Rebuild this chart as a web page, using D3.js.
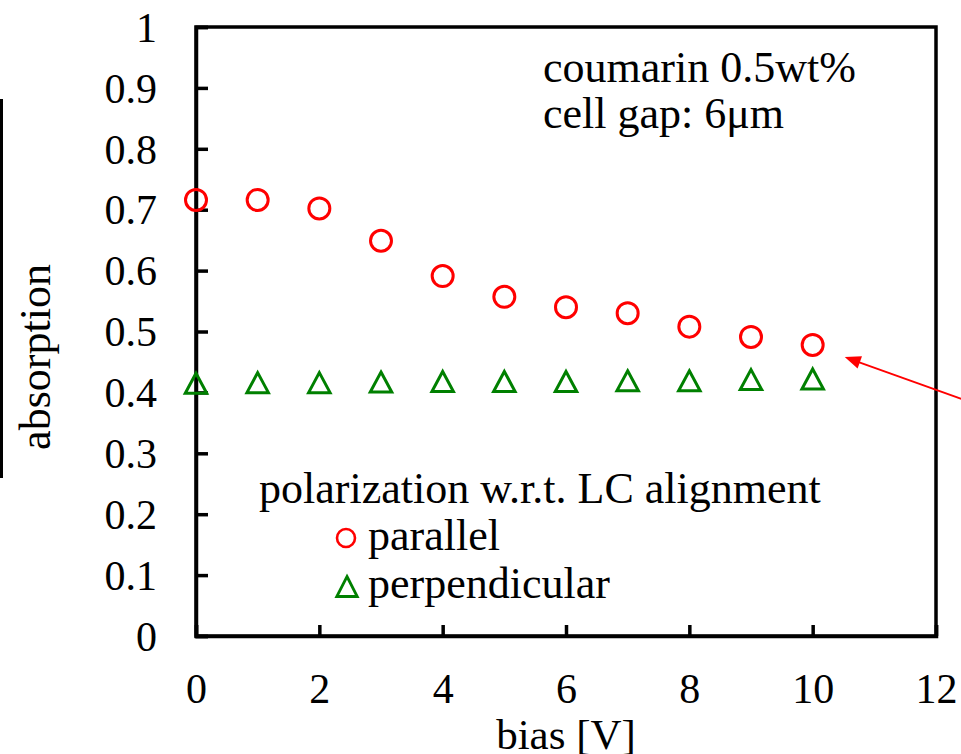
<!DOCTYPE html>
<html>
<head>
<meta charset="utf-8">
<script src="https://cdn.jsdelivr.net/npm/d3@7"></script>
<style>
  html, body { margin: 0; padding: 0; background: #fff; }
  svg { display: block; }
  text { font-family: "Liberation Serif", "Times New Roman", serif; fill: #000; }
</style>
</head>
<body>
<svg id="chart" width="961" height="754"></svg>
<script>
// ---- data ----
const biasV = [0, 1, 2, 3, 4, 5, 6, 7, 8, 9, 10];
const parallel = [0.716, 0.716, 0.702, 0.649, 0.591, 0.557, 0.540, 0.530, 0.508, 0.491, 0.478];
const perpendicular = [0.415, 0.416, 0.416, 0.417, 0.418, 0.418, 0.418, 0.419, 0.419, 0.421, 0.422];
const xTicks = [0, 2, 4, 6, 8, 10, 12];
const yTicks = [0, 0.1, 0.2, 0.3, 0.4, 0.5, 0.6, 0.7, 0.8, 0.9, 1];
const yTickLabels = ["0", "0.1", "0.2", "0.3", "0.4", "0.5", "0.6", "0.7", "0.8", "0.9", "1"];
const xTitle = "bias [V]";
const yTitle = "absorption";
const noteLines = ["coumarin 0.5wt%", "cell gap: 6\u03bcm"];
const legendTitle = "polarization w.r.t. LC alignment";
const seriesNames = ["parallel", "perpendicular"];
const arrowFrom = [12.45, 0.388];
const arrowTo = [10.52, 0.458];

(function () {
// ---- layout ----
const pLeft = 196, pRight = 936, pTop = 27, pBottom = 636;
const fs = 42;
const red = "#ff0000", green = "#008000";

const svg = d3.select("#chart");
const x = d3.scaleLinear().domain([0, 12]).range([pLeft, pRight]);
const y = d3.scaleLinear().domain([0, 1]).range([pBottom, pTop]);

// frame
svg.append("rect")
  .attr("x", pLeft).attr("y", pTop)
  .attr("width", pRight - pLeft).attr("height", pBottom - pTop)
  .attr("fill", "none").attr("stroke", "#000").attr("stroke-width", 3.5);

// y axis
const yAxis = svg.append("g")
  .attr("transform", `translate(${pLeft},0)`)
  .call(d3.axisLeft(y).tickValues(yTicks)
    .tickFormat((d, i) => yTickLabels[i])
    .tickSize(-12).tickPadding(39));
yAxis.select(".domain").attr("stroke", "#000").attr("stroke-width", 3.5);
yAxis.selectAll(".tick line").attr("stroke", "#000").attr("stroke-width", 3.5);
yAxis.selectAll(".tick text")
  .style("font-family", '"Liberation Serif", "Times New Roman", serif')
  .style("font-size", fs + "px").attr("fill", "#000")
  .attr("dy", "0.34em");

// x axis
const xAxis = svg.append("g")
  .attr("transform", `translate(0,${pBottom})`)
  .call(d3.axisBottom(x).tickValues(xTicks).tickSize(-11).tickPadding(0));
xAxis.select(".domain").attr("stroke", "#000").attr("stroke-width", 3.5);
xAxis.selectAll(".tick line").attr("stroke", "#000").attr("stroke-width", 3.5);
xAxis.selectAll(".tick text")
  .style("font-family", '"Liberation Serif", "Times New Roman", serif')
  .style("font-size", fs + "px").attr("fill", "#000")
  .attr("y", 67).attr("dy", "0");

// axis titles
svg.append("text")
  .attr("x", (pLeft + pRight) / 2).attr("y", 749)
  .attr("text-anchor", "middle")
  .style("font-size", "43px")
  .text(xTitle);

svg.append("text")
  .attr("transform", "translate(50,357) rotate(-90)")
  .attr("text-anchor", "middle")
  .style("font-size", "44px")
  .text(yTitle);

// stray bar at left edge
svg.append("line")
  .attr("x1", 1.5).attr("x2", 1.5).attr("y1", 99).attr("y2", 478)
  .attr("stroke", "#000").attr("stroke-width", 3);

// triangle path helper (bounding-box centred)
function triPath(w, h) {
  return `M0,${-h / 2}L${w / 2},${h / 2}L${-w / 2},${h / 2}Z`;
}

// series: parallel (circles)
svg.append("g").selectAll("circle")
  .data(biasV.map((b, i) => [b, parallel[i]]))
  .join("circle")
  .attr("cx", d => x(d[0])).attr("cy", d => y(d[1]))
  .attr("r", 10.5)
  .attr("fill", "none").attr("stroke", red).attr("stroke-width", 3);

// series: perpendicular (triangles)
svg.append("g").selectAll("path")
  .data(biasV.map((b, i) => [b, perpendicular[i]]))
  .join("path")
  .attr("transform", d => `translate(${x(d[0])},${y(d[1])})`)
  .attr("d", triPath(21.5, 20))
  .attr("fill", "none").attr("stroke", green).attr("stroke-width", 3)
  .attr("stroke-linejoin", "miter");

// annotation text
svg.append("g").selectAll("text")
  .data(noteLines)
  .join("text")
  .attr("x", 543).attr("y", (d, i) => 82 + i * 46)
  .style("font-size", "44px")
  .text(d => d);

// legend
svg.append("text")
  .attr("x", 259).attr("y", 503)
  .style("font-size", "44px")
  .text(legendTitle);

const lg = svg.append("g");
lg.append("circle")
  .attr("cx", 346).attr("cy", 538).attr("r", 9)
  .attr("fill", "none").attr("stroke", red).attr("stroke-width", 2.6);
lg.append("path")
  .attr("transform", "translate(347,586.5)")
  .attr("d", triPath(20.5, 20))
  .attr("fill", "none").attr("stroke", green).attr("stroke-width", 2.8);
lg.selectAll("text")
  .data(seriesNames)
  .join("text")
  .attr("x", 368).attr("y", (d, i) => 550 + i * 48)
  .style("font-size", "44px")
  .text(d => d);

// arrow annotation
const ax1 = x(arrowFrom[0]), ay1 = y(arrowFrom[1]);
const ax2 = x(arrowTo[0]), ay2 = y(arrowTo[1]);
const len = Math.hypot(ax2 - ax1, ay2 - ay1);
const ux = (ax2 - ax1) / len, uy = (ay2 - ay1) / len;
const hl = 16, hw = 6.5;
const bx = ax2 - ux * hl, by = ay2 - uy * hl;
svg.append("line")
  .attr("x1", ax1).attr("y1", ay1).attr("x2", bx + ux * 2).attr("y2", by + uy * 2)
  .attr("stroke", red).attr("stroke-width", 1.8);
svg.append("path")
  .attr("d", `M${ax2},${ay2}L${bx - uy * hw},${by + ux * hw}L${bx + uy * hw},${by - ux * hw}Z`)
  .attr("fill", red);
})();
</script>
</body>
</html>
